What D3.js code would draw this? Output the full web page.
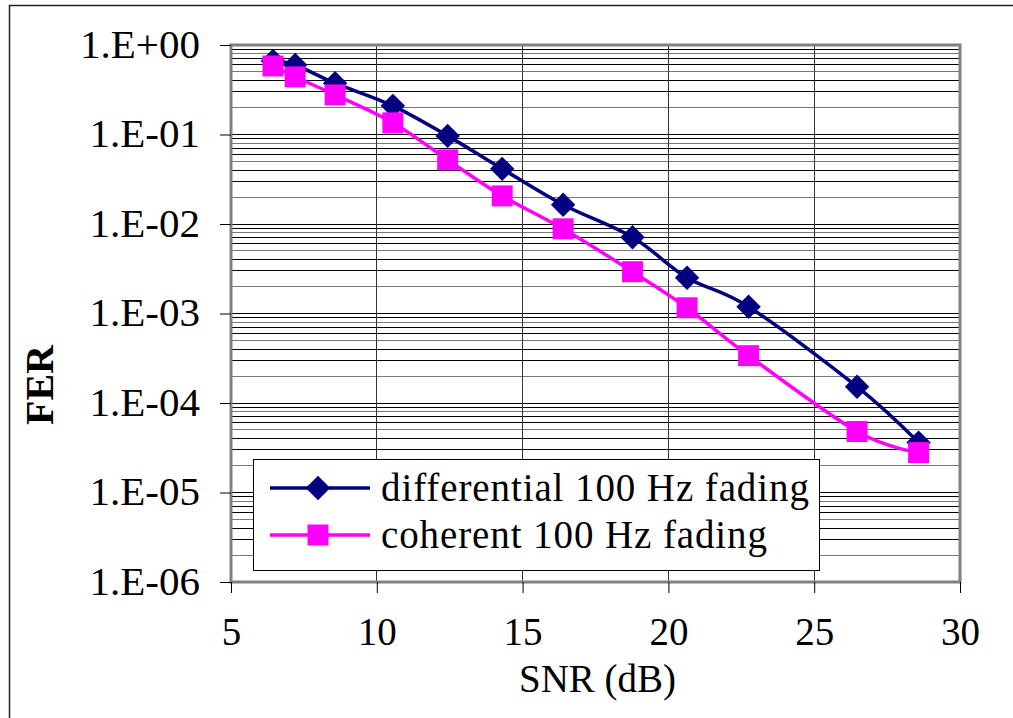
<!DOCTYPE html>
<html>
<head>
<meta charset="utf-8">
<script src="https://cdn.jsdelivr.net/npm/d3@7"></script>
<style>
  body { margin: 0; background: #fff; }
  text { font-family: "Liberation Serif", "Times New Roman", serif; }
</style>
</head>
<body>
<div id="plot"></div>
<script>
// SNR (dB) for every measured point
snr = [6.44, 7.2, 8.57, 10.55, 12.43, 14.3, 16.39, 18.77, 20.64, 22.75, 26.47, 28.58]

// frame error rates
differential = [0.663, 0.598, 0.374, 0.209, 0.0965, 0.0413, 0.0164, 0.00711, 0.00251, 0.00119, 0.000152, 0.0000361]
coherent = [0.583, 0.44, 0.277, 0.135, 0.0521, 0.0206, 0.00884, 0.00293, 0.00116, 0.000338, 0.000048, 0.0000279]

seriesNames = ["differential 100 Hz fading", "coherent 100 Hz fading"]
xTicks = [5, 10, 15, 20, 25, 30]
yTicks = [1, 1e-1, 1e-2, 1e-3, 1e-4, 1e-5, 1e-6]

W = 1013, H = 718
// plot area (window.top is reserved, so p-prefixed names)
pLeft = 231, pRight = 960, pTop = 45, pBottom = 582

svg = d3.select("#plot").append("svg").attr("width", W).attr("height", H).attr("viewBox", [0, 0, W, H])

// outer chart frame (runs off the right and bottom edges)
svg.append("rect").attr("x", 9.5).attr("y", 5.5).attr("width", 1020).attr("height", 730)
  .attr("fill", "none").attr("stroke", "#222").attr("stroke-width", 1.5)

x = d3.scaleLinear().domain([5, 30]).range([pLeft, pRight])
y = d3.scaleLog().domain([1e-6, 1]).range([pBottom, pTop])

// minor horizontal gridlines 2..9 of every decade, plus the decades
minor = []
for (e = -6; e < 0; e++) for (k = 1; k <= 9; k++) minor.push(k * Math.pow(10, e))

grid = svg.append("g").attr("stroke", "#000").attr("stroke-width", 1).attr("shape-rendering", "crispEdges")
grid.selectAll("line.h").data(minor).join("line").attr("class", "h")
  .attr("x1", pLeft).attr("x2", pRight).attr("y1", d => y(d)).attr("y2", d => y(d))
  .attr("stroke", (d, i) => i % 3 === 1 ? "#777" : "#000")
grid.selectAll("line.v").data(xTicks.slice(1, -1)).join("line").attr("class", "v")
  .attr("x1", d => x(d)).attr("x2", d => x(d)).attr("y1", pTop).attr("y2", pBottom)
  .attr("stroke", "#333")

// plot area border
svg.append("rect").attr("x", pLeft).attr("y", pTop).attr("width", pRight - pLeft).attr("height", pBottom - pTop)
  .attr("fill", "none").attr("stroke", "#808080").attr("stroke-width", 3)

// axes
yAxis = d3.axisLeft(y).tickValues(yTicks).tickSize(11).tickPadding(20)
  .tickFormat(d => "1.E" + (d >= 1 ? "+" : "-") + String(Math.round(Math.abs(Math.log10(d)))).padStart(2, "0"))
gy = svg.append("g").attr("transform", `translate(${pLeft},0)`).call(yAxis)
xAxis = d3.axisBottom(x).tickValues(xTicks).tickSize(11).tickPadding(24)
gx = svg.append("g").attr("transform", `translate(0,${pBottom})`).call(xAxis)
for (g of [gx, gy]) {
  g.select(".domain").remove()
  g.selectAll(".tick line").attr("stroke", "#000")
  g.selectAll(".tick text").attr("fill", "#000").style("font-family", "Liberation Serif").style("font-size", "39px")
}
gy.selectAll(".tick text").attr("dy", "0.3em").style("font-size", "41px")
gx.selectAll(".tick text").attr("dy", "0.72em")

svg.append("text").attr("x", (pLeft + pRight) / 2 + 2).attr("y", 692).attr("text-anchor", "middle")
  .style("font-size", "39px").text("SNR (dB)")
svg.append("text").attr("transform", "translate(53,385) rotate(-90)").attr("text-anchor", "middle")
  .style("font-size", "40px").style("font-weight", "bold").text("FER")

// series
series = [
  {name: seriesNames[0], values: differential, color: "#000080", symbol: d3.symbolDiamond2, size: 380},
  {name: seriesNames[1], values: coherent, color: "#ff00ff", symbol: d3.symbolSquare, size: 440}
]

line = d3.line().x((d, i) => x(snr[i])).y(d => y(d)).curve(d3.curveCatmullRom.alpha(0))

series.forEach(s => {
  svg.append("path").datum(s.values).attr("d", line)
    .attr("fill", "none").attr("stroke", s.color).attr("stroke-width", 3.5)
  svg.append("g").selectAll("path").data(s.values).join("path")
    .attr("transform", (d, i) => `translate(${x(snr[i])},${y(d)})`)
    .attr("d", d3.symbol(s.symbol, s.size))
    .attr("fill", s.color)
})

// legend
lg = svg.append("g")
lg.append("rect").attr("x", 253.5).attr("y", 459.5).attr("width", 566).attr("height", 111)
  .attr("fill", "#fff").attr("stroke", "#000").attr("stroke-width", 1)
series.forEach((s, i) => {
  yy = 488 + i * 47
  lg.append("line").attr("x1", 270).attr("x2", 370).attr("y1", yy).attr("y2", yy)
    .attr("stroke", s.color).attr("stroke-width", 3.5)
  lg.append("path").attr("transform", `translate(318,${yy})`)
    .attr("d", d3.symbol(s.symbol, s.size)).attr("fill", s.color)
  lg.append("text").attr("x", 381).attr("y", yy).attr("dy", "0.34em")
    .style("font-size", "39px").style("letter-spacing", "0.9px").text(s.name)
})
</script>
</body>
</html>
